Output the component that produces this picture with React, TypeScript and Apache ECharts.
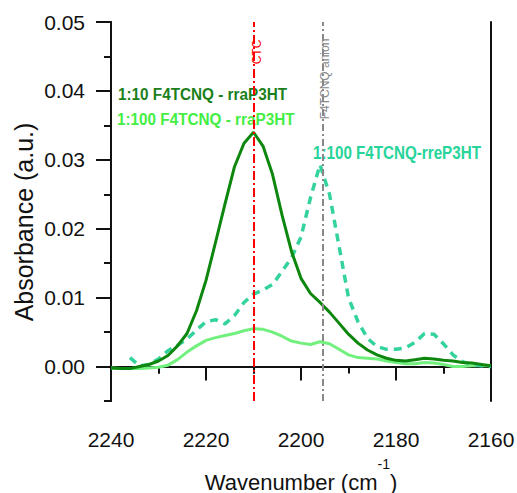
import React, { useEffect, useRef } from "react";
import * as echarts from "echarts";

const wavenumbers = [
  2240, 2238, 2236, 2234, 2232, 2230, 2228, 2226, 2224, 2222, 2220,
  2218, 2216, 2214, 2212, 2210, 2208, 2206, 2204, 2202, 2200,
  2198, 2196, 2194, 2192, 2190, 2188, 2186, 2184, 2182, 2180,
  2178, 2176, 2174, 2172, 2170, 2168, 2166, 2164, 2162, 2160,
];

// 1:10 F4TCNQ - rraP3HT
const rra10 = [
  -0.0002, -0.0003, -0.0003, 0.0, 0.0003, 0.0008, 0.0016, 0.003, 0.0048, 0.0081, 0.0125,
  0.018, 0.0236, 0.029, 0.0324, 0.034, 0.032, 0.0279, 0.022, 0.0167, 0.0128,
  0.0106, 0.0093, 0.0079, 0.0063, 0.0047, 0.0034, 0.0024, 0.0017, 0.0012, 0.0009,
  0.0008, 0.001, 0.0012, 0.0011, 0.0009, 0.0008, 0.0006, 0.0005, 0.0003, 0.0001,
];

// 1:100 F4TCNQ - rraP3HT
const rra100 = [
  -0.0002, -0.0003, -0.0003, -0.0003, -0.0002, -0.0001, 0.0002, 0.001, 0.0021, 0.003, 0.0038,
  0.0042, 0.0045, 0.0048, 0.0052, 0.0055, 0.0054, 0.005, 0.0044, 0.0037, 0.0034,
  0.0032, 0.0036, 0.0033, 0.0025, 0.0017, 0.0013, 0.0012, 0.0011, 0.0008, 0.0006,
  0.0004, 0.0004, 0.0006, 0.0005, 0.0003, 0.0, 0.0, 0.0001, 0.0001, 0.0001,
];

// 1:100 F4TCNQ-rreP3HT
const rre100 = [
  null, null, 0.0013, 0.0001, 0.0003, 0.0011, 0.0023, 0.0031, 0.004, 0.0053, 0.0065,
  0.0068, 0.0062, 0.0074, 0.0093, 0.0105, 0.0111, 0.0119, 0.0138, 0.0158, 0.0188,
  0.0245, 0.0293, 0.025, 0.0175, 0.01, 0.0065, 0.0041, 0.0029, 0.0025, 0.0025,
  0.0027, 0.0035, 0.0048, 0.0047, 0.0033, 0.0017, 0.0007, 0.0003, 0.0001, 0.0,
];

const yMajorTicks = [0, 0.01, 0.02, 0.03, 0.04, 0.05];
const yMinorTicks = [-0.005, 0.005, 0.015, 0.025, 0.035, 0.045];
const xTopTicks = [2230, 2220, 2210, 2200, 2180, 2170];
const ctcPosition = 2210;
const anionPosition = 2195.5;

const FONT = "'Liberation Sans', Arial, Helvetica, sans-serif";
const AXIS_COLOR = "#111";

export default function App() {
  const ref = useRef<HTMLDivElement>(null);

  useEffect(() => {
    if (!ref.current) return;
    const chart = echarts.init(ref.current, undefined, { renderer: "svg" });
    const toPairs = (arr: (number | null)[]) => wavenumbers.map((w, i) => [w, arr[i]]);

    const axisLine = { show: true, lineStyle: { color: AXIS_COLOR, width: 2 } };

    chart.setOption({
      animation: false,
      backgroundColor: "#fff",
      textStyle: { fontFamily: FONT },
      grid: {
        left: 111,
        right: 26,
        top: 22,
        bottom: 92,
        containLabel: false,
        outerBoundsMode: "none",
      },
      xAxis: [
        {
          type: "value",
          min: 2160,
          max: 2240,
          interval: 20,
          inverse: true,
          position: "bottom",
          axisLine,
          axisTick: { show: true, inside: false, length: 14, lineStyle: { color: AXIS_COLOR, width: 2 } },
          minorTick: { show: true, splitNumber: 2, length: 7, lineStyle: { color: AXIS_COLOR, width: 2 } },
          axisLabel: {
            fontSize: 21,
            color: AXIS_COLOR,
            margin: 28,
            fontFamily: FONT,
            formatter: (v: number) => String(v),
          },
          splitLine: { show: false },
          minorSplitLine: { show: false },
          name: "{a|Wavenumber (cm}{s|-1}{a|)}",
          nameLocation: "middle",
          nameGap: 56,
          nameTextStyle: {
            rich: {
              a: { fontSize: 22, lineHeight: 50, color: AXIS_COLOR, fontFamily: FONT },
              s: { fontSize: 14, lineHeight: 14, verticalAlign: "top", color: AXIS_COLOR, fontFamily: FONT },
            },
          },
        },
        {
          type: "value",
          min: 2160,
          max: 2240,
          inverse: true,
          position: "top",
          axisLine,
          axisTick: {
            show: true,
            inside: true,
            length: 7,
            customValues: xTopTicks,
            lineStyle: { color: AXIS_COLOR, width: 2 },
          },
          axisLabel: { show: false },
          splitLine: { show: false },
        },
      ],
      yAxis: [
        {
          type: "value",
          min: -0.005,
          max: 0.05,
          position: "left",
          axisLine,
          axisTick: {
            show: true,
            inside: false,
            length: 15,
            customValues: yMajorTicks,
            lineStyle: { color: AXIS_COLOR, width: 2 },
          },
          axisLabel: {
            customValues: yMajorTicks,
            formatter: (v: number) => v.toFixed(2),
            fontSize: 21,
            color: AXIS_COLOR,
            margin: 26,
            fontFamily: FONT,
          },
          splitLine: { show: false },
        },
        {
          type: "value",
          min: -0.005,
          max: 0.05,
          position: "left",
          axisLine,
          axisTick: {
            show: true,
            inside: false,
            length: 7,
            customValues: yMinorTicks,
            lineStyle: { color: AXIS_COLOR, width: 2 },
          },
          axisLabel: { show: false },
          splitLine: { show: false },
        },
        {
          type: "value",
          min: -0.005,
          max: 0.05,
          position: "right",
          axisLine,
          axisTick: { show: false },
          axisLabel: { show: false },
          splitLine: { show: false },
        },
      ],
      series: [
        {
          name: "1:100 F4TCNQ - rraP3HT",
          type: "line",
          data: toPairs(rra100),
          showSymbol: false,
          symbol: "none",
          lineStyle: { color: "#72f07e", width: 3 },
          z: 2,
        },
        {
          name: "1:100 F4TCNQ-rreP3HT",
          type: "line",
          data: toPairs(rre100),
          showSymbol: false,
          symbol: "none",
          lineStyle: { color: "#34d39c", width: 3.5, type: [8, 6] },
          z: 3,
        },
        {
          name: "1:10 F4TCNQ - rraP3HT",
          type: "line",
          data: toPairs(rra10),
          showSymbol: false,
          symbol: "none",
          lineStyle: { color: "#0e870e", width: 3 },
          z: 4,
          markLine: {
            silent: true,
            symbol: ["none", "none"],
            label: { show: false },
            data: [
              { xAxis: ctcPosition, lineStyle: { color: "#ff0000", width: 2, type: [9, 3, 2, 3] } },
              { xAxis: anionPosition, lineStyle: { color: "#888888", width: 2, type: [7, 3, 2, 3] } },
            ],
          },
        },
      ],
      graphic: [
        {
          type: "text",
          x: 24,
          y: 222,
          rotation: Math.PI / 2,
          style: {
            text: "Absorbance (a.u.)",
            fontSize: 25,
            fontFamily: FONT,
            fill: AXIS_COLOR,
            align: "center",
            verticalAlign: "middle",
          },
        },
        {
          type: "text",
          x: 118,
          y: 94,
          scaleX: 0.9,
          style: {
            text: "1:10 F4TCNQ - rraP3HT",
            fontSize: 17,
            fontWeight: "bold",
            fontFamily: FONT,
            fill: "#1b7f1b",
            align: "left",
            verticalAlign: "middle",
          },
        },
        {
          type: "text",
          x: 117,
          y: 119,
          scaleX: 0.9,
          style: {
            text: "1:100 F4TCNQ - rraP3HT",
            fontSize: 17,
            fontWeight: "bold",
            fontFamily: FONT,
            fill: "#44ee44",
            align: "left",
            verticalAlign: "middle",
          },
        },
        {
          type: "text",
          x: 313,
          y: 152,
          scaleX: 0.8,
          style: {
            text: "1:100 F4TCNQ-rreP3HT",
            fontSize: 19,
            fontWeight: "bold",
            fontFamily: FONT,
            fill: "#27d49a",
            align: "left",
            verticalAlign: "middle",
          },
        },
        {
          type: "text",
          x: 257,
          y: 52,
          rotation: Math.PI / 2,
          style: {
            text: "CTC",
            fontSize: 12,
            fontFamily: FONT,
            fill: "#ff0000",
            align: "center",
            verticalAlign: "middle",
          },
        },
        {
          type: "text",
          x: 325,
          y: 79,
          rotation: Math.PI / 2,
          style: {
            text: "F4TCNQ anion",
            fontSize: 12,
            fontFamily: FONT,
            fill: "#8a8a8a",
            align: "center",
            verticalAlign: "middle",
          },
        },
      ],
    });

    return () => chart.dispose();
  }, []);

  return (
    <div
      ref={ref}
      style={{ position: "fixed", left: 0, top: 0, width: 517, height: 493, background: "#fff" }}
    />
  );
}
